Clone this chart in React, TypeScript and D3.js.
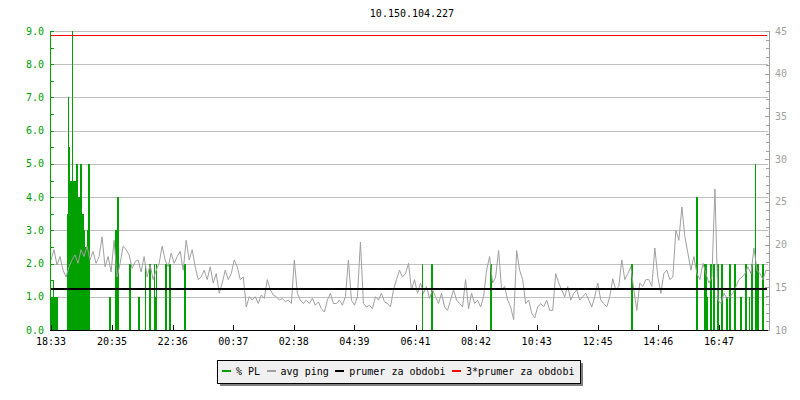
import React from 'react';
import * as d3 from 'd3';

const TITLE = '10.150.104.227';

// time axis (minutes from 18:33)
const SPAN_MINUTES = 1430;
const X_TICK_MINUTES = [0, 122, 243, 364, 485, 606, 728, 849, 970, 1092, 1213, 1334];
const X_TICK_LABELS = ['18:33', '20:35', '22:36', '00:37', '02:38', '04:39', '06:41', '08:42', '10:43', '12:45', '14:46', '16:47'];

// avg ping samples (ms), one every 6 minutes
const PING_STEP_MIN = 6;
const PING_MS = [
  18.2, 19.4, 17.6, 18.6, 17.0, 16.2, 17.4, 18.2, 18.8, 17.8,
  19.4, 18.6, 19.8, 18.2, 19.2, 17.8, 18.6, 20.9, 17.4, 18.6,
  16.8, 20.5, 16.2, 17.8, 19.8, 19.4, 18.8, 17.2, 18.0, 18.2,
  16.8, 18.6, 16.2, 17.6, 15.9, 17.0, 17.8, 19.8, 18.2, 17.4,
  19.0, 17.8, 18.6, 19.2, 17.0, 20.5, 18.2, 19.4, 17.4, 15.9,
  16.2, 17.0, 15.9, 17.4, 15.5, 16.6, 14.3, 15.5, 17.0, 15.9,
  16.6, 18.2, 17.4, 15.9, 16.2, 12.7, 13.9, 13.5, 13.9, 13.1,
  14.1, 13.7, 15.9, 14.7, 14.1, 13.9, 13.5, 13.7, 13.3, 13.5,
  13.1, 18.2, 14.3, 13.5, 13.1, 13.5, 13.1, 13.7, 12.9, 13.3,
  12.5, 12.1, 13.5, 14.3, 13.1, 13.1, 13.5, 12.9, 13.9, 18.2,
  13.5, 12.9, 13.9, 20.3, 13.1, 12.7, 12.9, 12.5, 13.9, 13.5,
  14.3, 13.3, 13.1, 12.7, 14.7, 15.9, 17.0, 16.2, 16.6, 17.8,
  14.7, 15.9, 14.3, 15.5, 14.3, 15.1, 13.7, 14.7, 13.9, 13.1,
  14.3, 12.7, 12.3, 13.5, 14.7, 13.5, 13.1, 12.7, 15.9, 12.5,
  14.3, 13.1, 13.5, 12.7, 13.9, 17.0, 18.6, 15.5, 16.2, 19.3,
  14.7, 15.1, 13.5, 12.7, 11.2, 19.3, 17.0, 15.9, 13.1, 13.5,
  12.0, 11.4, 12.7, 13.1, 12.7, 13.5, 12.3, 12.3, 16.6, 15.5,
  14.7, 13.9, 15.1, 13.5, 14.3, 14.7, 13.5, 13.9, 14.3, 13.5,
  12.7, 13.9, 15.5, 13.5, 13.1, 12.7, 13.9, 16.0, 14.7, 15.1,
  18.2, 15.9, 16.6, 17.4, 14.7, 12.3, 15.5, 15.1, 15.9, 15.9,
  15.1, 19.6, 16.2, 14.3, 16.6, 17.0, 15.9, 16.2, 21.7, 20.5,
  24.4, 20.9, 19.0, 17.0, 18.6, 16.6, 15.9, 17.8, 16.6, 15.5,
  16.2, 26.5, 13.5, 13.1, 14.3, 13.7, 13.9, 14.3, 15.1, 15.9,
  16.2, 16.6, 17.4, 16.6, 19.6, 17.0, 16.6, 15.9, 17.0,
];

// packet loss (%): [start minute, end minute, value]
const PL_START = [
  0, 4, 6, 32, 33, 36, 38, 42, 44, 50, 53, 57, 61, 65, 68, 71, 74,
  116, 128, 132, 156, 174, 188, 196, 206, 208, 210, 228, 236, 266,
  740, 758, 876, 1158, 1288,
  1304, 1310, 1316, 1322, 1330, 1338, 1348, 1354, 1364, 1376, 1386, 1394, 1398, 1406, 1408, 1420,
];
const PL_END = [
  4, 6, 13, 33, 36, 38, 42, 44, 50, 53, 57, 61, 65, 68, 71, 74, 77,
  120, 132, 135, 159, 177, 190, 199, 208, 210, 212, 231, 239, 270,
  743, 762, 880, 1162, 1292,
  1310, 1312, 1320, 1326, 1334, 1342, 1352, 1358, 1368, 1380, 1390, 1396, 1402, 1408, 1414, 1424,
];
const PL_VALUE = [
  1.0, 1.5, 1.0, 3.5, 7.0, 5.5, 4.5, 9.0, 4.5, 5.0, 4.0, 5.0, 3.5, 3.0, 2.5, 3.0, 5.0,
  1.0, 3.0, 4.0, 2.0, 1.0, 2.0, 2.0, 2.0, 1.0, 2.0, 2.0, 2.0, 2.0,
  2.0, 2.0, 2.0, 2.0, 4.0,
  2.0, 1.0, 2.0, 2.0, 2.0, 2.0, 1.0, 2.0, 2.0, 1.0, 2.0, 1.0, 2.0, 5.0, 2.0, 2.0,
];

const AVG_PING = 14.83;
const PL_LABEL_TICKS = [0, 1, 2, 3, 4, 5, 6, 7, 8, 9];
const PING_LABEL_TICKS = [10, 15, 20, 25, 30, 35, 40, 45];

const LEGEND_LABELS = ['% PL', 'avg ping', 'prumer za obdobi', '3*prumer za obdobi'];
const LEGEND_COLORS = ['#00a000', '#a0a0a0', '#000000', '#ff0000'];

const GREEN = '#00a000';
const GRAY = '#a0a0a0';
const FONT = "'DejaVu Sans Mono', monospace";

export default function App() {
  const L = 51, R = 767, T = 31, B = 330;
  const x = d3.scaleLinear().domain([0, SPAN_MINUTES]).range([L, R]);
  const yL = d3.scaleLinear().domain([0, 9]).range([B, T]);
  const yR = d3.scaleLinear().domain([10, 45]).range([B, T]);
  const crisp = (v: number) => Math.round(v) + 0.5;

  const pingLine = d3
    .line<number>()
    .x((_, i) => x(i * PING_STEP_MIN))
    .y((d) => yR(d));

  const halfTicks = d3.range(0, 9.01, 0.5);
  const pingMinor = d3.range(10, 45.01, 1);

  // legend layout
  const charW = 6.02;
  let lx = 222;
  const legendItems = LEGEND_LABELS.map((lab, i) => {
    const item = { sx: lx, tx: lx + 14, label: lab, color: LEGEND_COLORS[i] };
    lx = lx + 14 + lab.length * charW + 6.5;
    return item;
  });

  return (
    <svg
      width={800}
      height={400}
      style={{ position: 'absolute', left: 0, top: 0, background: '#fff' }}
      fontFamily={FONT}
      fontSize={10}
    >
      <rect x={0} y={0} width={800} height={400} fill="#ffffff" />
      <text x={412} y={17} textAnchor="middle" fill="#000">{TITLE}</text>

      {/* grid */}
      <g shapeRendering="crispEdges">
        {PL_LABEL_TICKS.filter((v) => v > 0).map((v) => (
          <line key={v} x1={L} x2={R + 1} y1={crisp(yL(v))} y2={crisp(yL(v))} stroke="#c0c0c0" />
        ))}
      </g>

      {/* packet loss bars */}
      <g shapeRendering="crispEdges">
        {PL_VALUE.map((v, i) => (
          <rect
            key={i}
            x={x(PL_START[i])}
            width={Math.max(1, x(PL_END[i]) - x(PL_START[i]))}
            y={yL(v)}
            height={yL(0) - yL(v)}
            fill={GREEN}
          />
        ))}
      </g>

      {/* avg ping */}
      <path d={pingLine(PING_MS) || ''} fill="none" stroke={GRAY} strokeWidth={1} />

      {/* average lines */}
      <line x1={L} x2={R} y1={yR(AVG_PING)} y2={yR(AVG_PING)} stroke="#000" strokeWidth={2} shapeRendering="crispEdges" />
      <line x1={L} x2={R} y1={crisp(yR(3 * AVG_PING))} y2={crisp(yR(3 * AVG_PING))} stroke="#ff0000" strokeWidth={1} shapeRendering="crispEdges" />

      {/* left axis */}
      <g shapeRendering="crispEdges">
        <line x1={L - 0.5} x2={L - 0.5} y1={T} y2={B} stroke={GREEN} />
        {halfTicks.map((v) => (
          <line key={v} x1={L} x2={L + 3} y1={crisp(yL(v))} y2={crisp(yL(v))} stroke={GREEN} />
        ))}
      </g>
      {PL_LABEL_TICKS.map((v) => (
        <text key={v} x={44} y={yL(v)} dy="0.35em" textAnchor="end" fill={GREEN}>
          {d3.format('.1f')(v)}
        </text>
      ))}

      {/* right axis */}
      <g shapeRendering="crispEdges">
        <line x1={769.5} x2={769.5} y1={T} y2={B + 1} stroke={GRAY} />
        {pingMinor.map((v) => (
          <line
            key={v}
            x1={v % 5 === 0 ? 765 : 766}
            x2={770}
            y1={crisp(yR(v))}
            y2={crisp(yR(v))}
            stroke={GRAY}
          />
        ))}
      </g>
      {PING_LABEL_TICKS.map((v) => (
        <text key={v} x={775} y={yR(v)} dy="0.35em" textAnchor="start" fill={GRAY}>
          {v}
        </text>
      ))}

      {/* bottom axis */}
      <g shapeRendering="crispEdges">
        <line x1={L - 1} x2={R + 1} y1={B + 0.5} y2={B + 0.5} stroke="#000" />
        {X_TICK_MINUTES.map((m) => (
          <line key={m} x1={crisp(x(m))} x2={crisp(x(m))} y1={B - 5} y2={B} stroke="#000" />
        ))}
      </g>
      {X_TICK_MINUTES.map((m, i) => (
        <text key={m} x={x(m)} y={345} textAnchor="middle" fill="#000">
          {X_TICK_LABELS[i]}
        </text>
      ))}

      {/* legend */}
      <g shapeRendering="crispEdges">
        <rect x={220} y={363} width={363} height={23} fill="#808080" />
        <rect x={217.5} y={360.5} width={363} height={23} fill="#f0f0f0" stroke="#000" />
        {legendItems.map((it) => (
          <g key={it.label}>
            <rect x={it.sx} y={370} width={9} height={2} fill={it.color} />
          </g>
        ))}
      </g>
      {legendItems.map((it) => (
        <text key={it.label} x={it.tx} y={375} fill="#000">
          {it.label}
        </text>
      ))}
    </svg>
  );
}
